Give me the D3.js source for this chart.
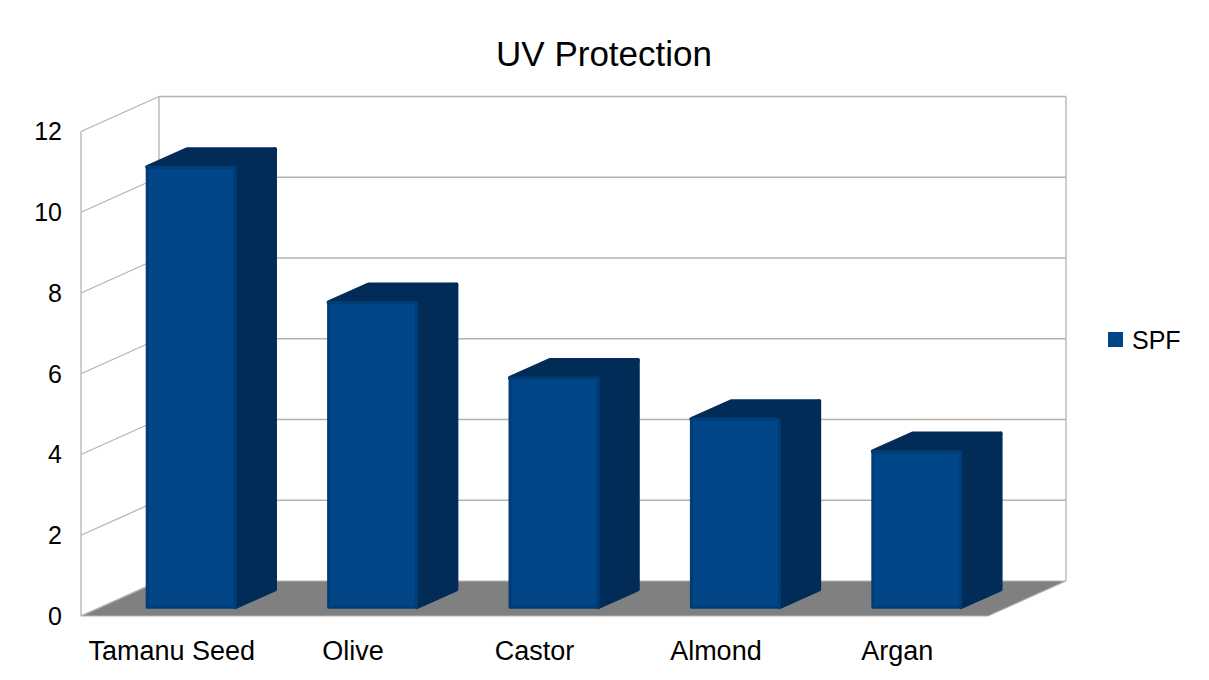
<!DOCTYPE html>
<html><head><meta charset="utf-8">
<script src="https://cdn.jsdelivr.net/npm/d3@7/dist/d3.min.js"></script>
<style>body{margin:0;background:#fff}svg{display:block}text{font-family:"Liberation Sans",Arial,sans-serif;fill:#000}</style>
</head><body>
<svg id="c" width="1209" height="680"></svg>
<script>
const title = "UV Protection";
const categories = ["Tamanu Seed","Olive","Castor","Almond","Argan"];
const spf = [10.9, 7.55, 5.68, 4.66, 3.86];
const yTicks = [0,2,4,6,8,10,12];
const seriesName = "SPF";

const svg = d3.select("#c");
const DX = 78, DY = 35;           // depth offset of the floor (oblique projection)
const x = d3.scaleBand().domain(categories).range([81, 988]).padding(0);
const y = d3.scaleLinear().domain([0, 12]).range([616, 131.5]);
const proj = (px, v, z) => [px + z * DX, y(v) - z * DY];
const poly = pts => "M" + pts.map(p => p.join(",")).join("L") + "Z";
const grid = "#b3b3b3";

// floor
svg.append("path").attr("d", poly([proj(81,0,0), proj(988,0,0), proj(988,0,1), proj(81,0,1)]))
  .attr("fill", "#808080").attr("stroke", grid).attr("stroke-width", 1.2);

// back wall gridlines and left wall gridlines
const g = svg.append("g").attr("stroke", grid).attr("stroke-width", 1.3).attr("fill", "none");
yTicks.forEach(t => {
  if (t > 0) {
    g.append("line").attr("x1", proj(81,t,1)[0]).attr("y1", proj(81,t,1)[1])
      .attr("x2", proj(988,t,1)[0]).attr("y2", proj(988,t,1)[1]);
  }
  g.append("line").attr("x1", proj(81,t,0)[0]).attr("y1", proj(81,t,0)[1])
    .attr("x2", proj(81,t,1)[0]).attr("y2", proj(81,t,1)[1]);
});
// wall edges
[[proj(81,0,0), proj(81,12,0)], [proj(81,0,1), proj(81,12,1)], [proj(988,0,1), proj(988,12,1)]]
  .forEach(([a,b]) => g.append("line").attr("x1",a[0]).attr("y1",a[1]).attr("x2",b[0]).attr("y2",b[1]));

// bars
const z0 = 0.25, z1 = 0.76;
const bw = x.bandwidth() * 0.485;
const bars = svg.append("g");
categories.forEach((c, i) => {
  const v = spf[i];
  const cx = x(c) + x.bandwidth() / 2;
  const x0 = cx - bw / 2, x1 = cx + bw / 2;
  const dark = "#002c57";
  bars.append("path").attr("d", poly([proj(x1,0,z0), proj(x1,0,z1), proj(x1,v,z1), proj(x1,v,z0)]))
    .attr("fill", dark).attr("stroke", dark).attr("stroke-width", 4).attr("stroke-linejoin", "round");
  bars.append("path").attr("d", poly([proj(x0,v,z0), proj(x1,v,z0), proj(x1,v,z1), proj(x0,v,z1)]))
    .attr("fill", dark).attr("stroke", dark).attr("stroke-width", 4).attr("stroke-linejoin", "round");
  bars.append("path").attr("d", poly([proj(x0,0,z0), proj(x1,0,z0), proj(x1,v,z0), proj(x0,v,z0)]))
    .attr("fill", "#004586").attr("stroke", "#003c75").attr("stroke-width", 3).attr("stroke-linejoin", "round");
});

// y axis labels
svg.append("g").selectAll("text").data(yTicks).join("text")
  .attr("x", 62).attr("y", d => y(d)).attr("dy", "0.35em").attr("text-anchor", "end")
  .attr("font-size", 25).text(d => d);

// category labels
svg.append("g").selectAll("text").data(categories).join("text")
  .attr("x", d => x(d) + x.bandwidth() / 2).attr("y", 660).attr("text-anchor", "middle")
  .attr("font-size", 27).text(d => d);

// title
svg.append("text").attr("x", 604).attr("y", 66).attr("text-anchor", "middle")
  .attr("font-size", 35).text(title);

// legend
svg.append("rect").attr("x", 1108).attr("y", 332).attr("width", 15).attr("height", 15).attr("fill", "#004586");
svg.append("text").attr("x", 1132).attr("y", 349).attr("font-size", 25).text(seriesName);
</script>
</body></html>
